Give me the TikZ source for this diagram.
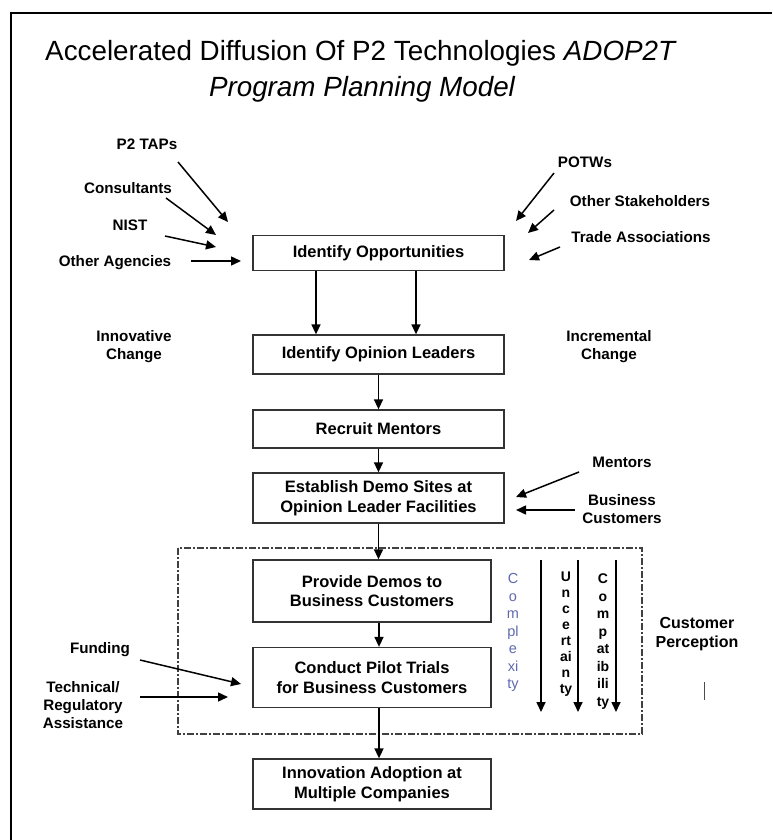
\documentclass[tikz,border=0pt]{standalone}
\usepackage{fontspec}
\setmainfont{Liberation Sans}
\usetikzlibrary{arrows.meta}
\definecolor{cplx}{RGB}{95,105,175}
\begin{document}
\begin{tikzpicture}[x=1pt,y=-1pt,
  stepbox/.style={draw=black!80,line width=1.3pt,fill=white,inner sep=0pt,align=center,
     font=\bfseries\fontsize{16.5}{19.5}\selectfont},
  lbl/.style={align=center,inner sep=0pt,font=\bfseries\fontsize{15.2}{18}\selectfont},
  arr/.style={line width=1.5pt,-{Triangle[length=10pt,width=9pt]}},
  colarr/.style={line width=1.6pt,-{Triangle[length=10pt,width=9pt]}},
  vtext/.style={align=center,inner sep=0pt},
  frame/.style={line width=1.5pt}]
\useasboundingbox (0,0) rectangle (772,840);
% frame
\coordinate (f1) at (11,840);
\coordinate (f2) at (11,13);
\coordinate (f3) at (772,13);
\draw[frame] (f1) -- (f2) -- (f3);
% title
\node[inner sep=0pt] (title1) at (361,53) {\fontsize{27.8}{32}\selectfont Accelerated Diffusion Of P2 Technologies \textit{ADOP2T}};
\node[inner sep=0pt] (title2) at (362,89) {\fontsize{27.8}{32}\selectfont\itshape Program Planning Model};
% dash-dot region
\draw[black!75,line width=1.3pt,dash pattern=on 7pt off 2pt on 2pt off 2pt] (178,548) rectangle (642,734);
% boxes
\node[stepbox,minimum width=251pt,minimum height=35pt] (opp) at (378.5,253) {Identify Opportunities};
\node[stepbox,minimum width=251pt,minimum height=39pt] (lead) at (378.5,354.5) {Identify Opinion Leaders};
\node[stepbox,minimum width=251pt,minimum height=38pt] (recruit) at (378.5,429) {Recruit Mentors};
\node[stepbox,minimum width=251pt,minimum height=50pt] (est) at (378.5,498) {Establish Demo Sites at\\Opinion Leader Facilities};
\node[stepbox,minimum width=238pt,minimum height=62pt] (demo) at (372,591) {Provide Demos to\\Business Customers};
\node[stepbox,minimum width=238pt,minimum height=60pt] (pilot) at (372,677.5) {Conduct Pilot Trials\\for Business Customers};
\node[stepbox,minimum width=238pt,minimum height=50pt] (adopt) at (372,784) {Innovation Adoption at\\Multiple Companies};
% main flow arrows
\draw[arr] ([xshift=-62.5pt]opp.south) -- ([xshift=-62.5pt]lead.north);
\draw[arr] ([xshift=37.5pt]opp.south) -- ([xshift=37.5pt]lead.north);
\draw[arr] (lead.south) -- (recruit.north);
\draw[arr] (recruit.south) -- (est.north);
\draw[arr] (est.south) -- (est.south |- demo.north);
\draw[arr] ([xshift=7pt]demo.south) -- ([xshift=7pt]pilot.north);
\draw[arr] ([xshift=7pt]pilot.south) -- ([xshift=7pt]adopt.north);
% left inputs
\node[lbl] (taps) at (147,144) {P2 TAPs};
\node[lbl] (consult) at (128,188) {Consultants};
\node[lbl] (nist) at (130,225) {NIST};
\node[lbl] (otherag) at (115,263) {Other Agencies};
\coordinate (a1s) at (178,162); \coordinate (a1e) at (228,222);
\coordinate (a2s) at (166,198); \coordinate (a2e) at (216,235);
\coordinate (a3s) at (165,236); \coordinate (a3e) at (216,247);
\coordinate (a4s) at (191,261); \coordinate (a4e) at (241,261);
\draw[arr] (a1s) -- (a1e);
\draw[arr] (a2s) -- (a2e);
\draw[arr] (a3s) -- (a3e);
\draw[arr] (a4s) -- (a4e);
% right inputs
\node[lbl] (potw) at (585,162) {POTWs};
\node[lbl] (stake) at (640,201) {Other Stakeholders};
\node[lbl] (trade) at (641,237) {Trade Associations};
\coordinate (b1s) at (554,173); \coordinate (b1e) at (516,221);
\coordinate (b2s) at (554,210); \coordinate (b2e) at (528,233);
\coordinate (b3s) at (560,247); \coordinate (b3e) at (529,260);
\draw[arr] (b1s) -- (b1e);
\draw[arr] (b2s) -- (b2e);
\draw[arr] (b3s) -- (b3e);
% change labels
\node[lbl] (innov) at (134,347) {Innovative\\Change};
\node[lbl] (incr) at (609,347) {Incremental\\Change};
% mentors / business customers
\node[lbl] (ment) at (622,462) {Mentors};
\node[lbl] (bcust) at (622,509) {Business\\Customers};
\coordinate (c1s) at (579,472); \coordinate (c1e) at (516,497);
\coordinate (c2s) at (575,510); \coordinate (c2e) at (516,510);
\draw[arr] (c1s) -- (c1e);
\draw[arr] (c2s) -- (c2e);
% funding / technical
\node[lbl] (fund) at (100,650) {Funding};
\node[lbl] (tech) at (83,705) {Technical/\\Regulatory\\Assistance};
\coordinate (d1s) at (140,660); \coordinate (d1e) at (241,684);
\coordinate (d2s) at (140,697); \coordinate (d2e) at (228,697);
\draw[arr] (d1s) -- (d1e);
\draw[arr] (d2s) -- (d2e);
% perception columns
\node[vtext,text=cplx,font=\fontsize{14.5}{17.5}\selectfont] (cpx) at (513,632.5) {C\\o\\m\\pl\\e\\xi\\ty};
\node[vtext,font=\bfseries\fontsize{14}{16}\selectfont] (unc) at (566,634) {U\\n\\c\\e\\rt\\ai\\n\\ty};
\node[vtext,font=\bfseries\fontsize{14}{17.5}\selectfont] (cmp) at (603,641.5) {C\\o\\m\\p\\at\\ib\\ili\\ty};
\coordinate (e1s) at (541,560); \coordinate (e1e) at (541,712);
\coordinate (e2s) at (578,560); \coordinate (e2e) at (578,712);
\coordinate (e3s) at (616,560); \coordinate (e3e) at (616,712);
\draw[colarr] (e1s) -- (e1e);
\draw[colarr] (e2s) -- (e2e);
\draw[colarr] (e3s) -- (e3e);
\node[lbl,font=\bfseries\fontsize{16}{19}\selectfont] (cperc) at (697,634.5) {Customer\\Perception};
\coordinate (g1) at (704,682); \coordinate (g2) at (704,700);
\draw[line width=1pt,black!70] (g1) -- (g2);
\end{tikzpicture}
\end{document}
